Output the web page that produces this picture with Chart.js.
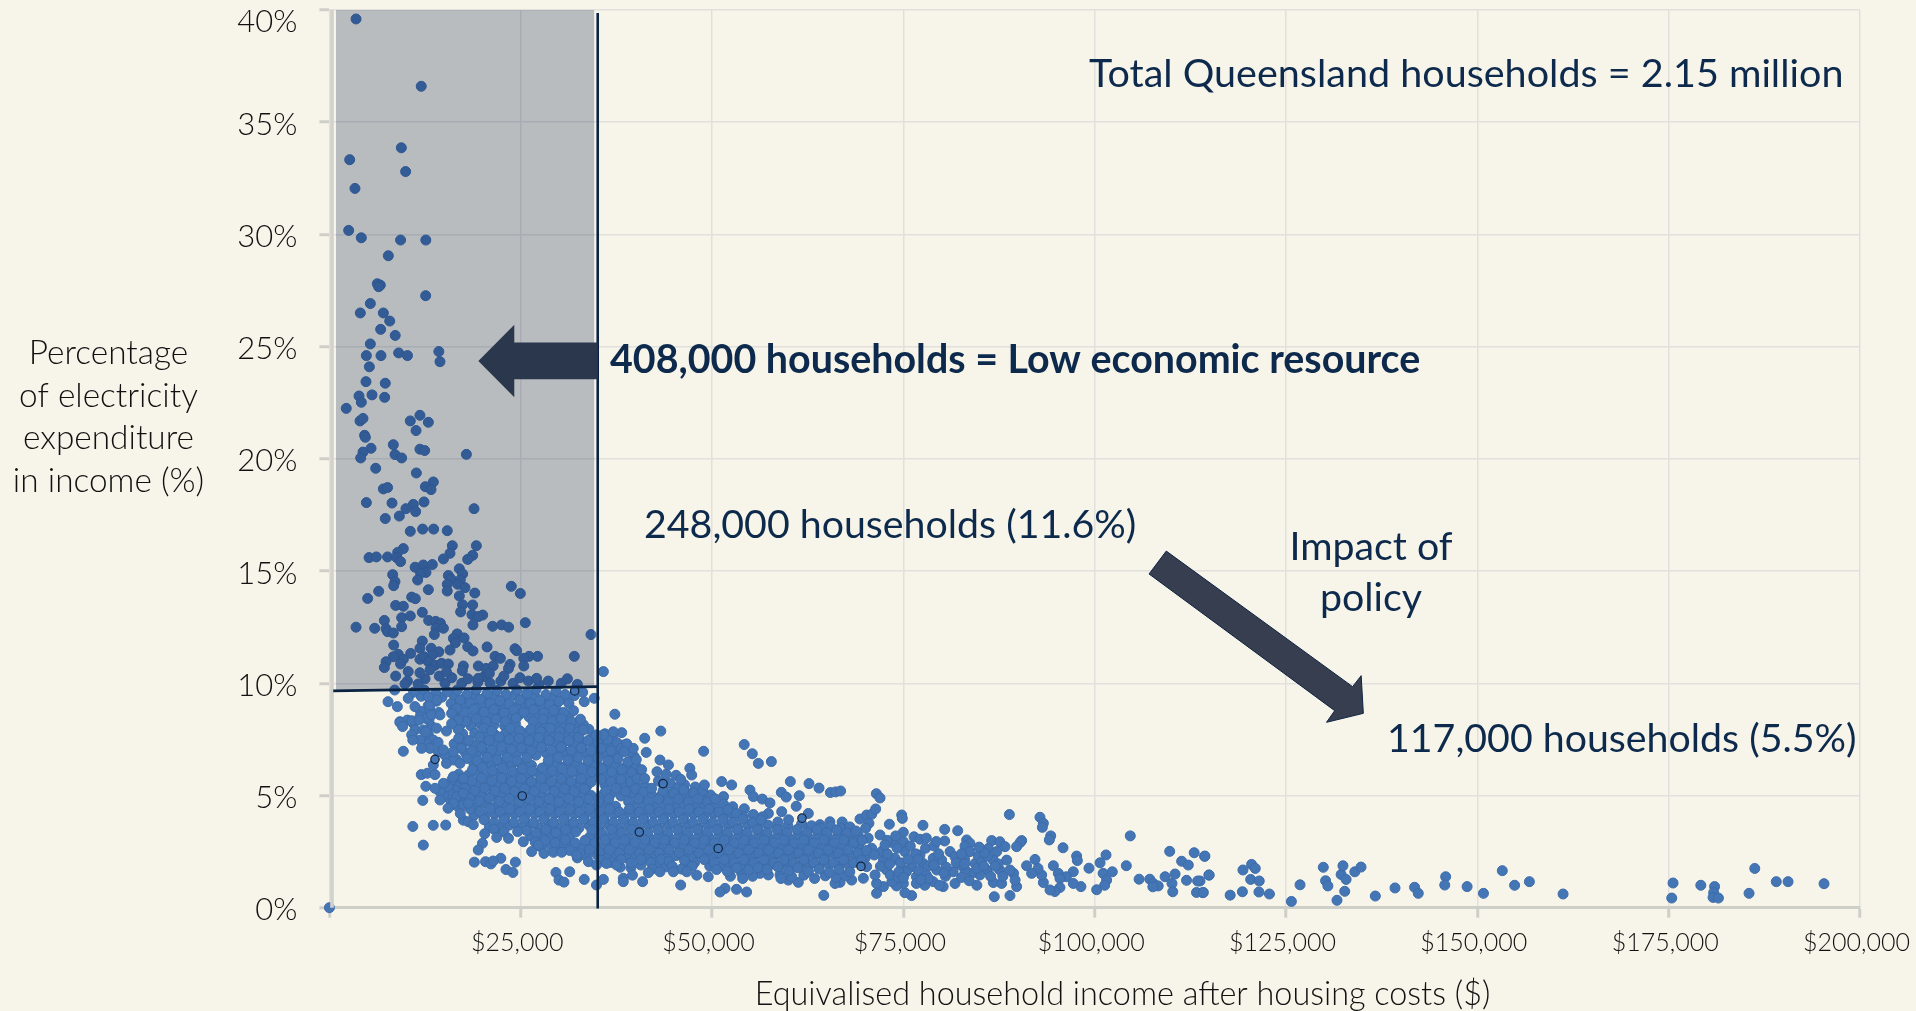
<!DOCTYPE html>
<html><head><meta charset="utf-8">
<style>html,body{margin:0;padding:0;background:#f7f5ea;overflow:hidden}canvas{display:block}</style>
<script src="https://cdn.jsdelivr.net/npm/chart.js@4"></script>
</head><body><div style="width:1916px;height:1011px"><canvas id="c"></canvas></div>
<script>
// Values are [income in $ thousand, share in %], written as flat pairs.
const upperHouseholds=[3.48,39.6,12.0,36.6,9.4,33.86,2.65,33.33,9.96,32.8,3.34,32.05,2.52,30.18,4.17,29.85,9.3,29.75,12.6,29.75,7.7,29.05,6.26,27.8,6.65,27.74,6.44,27.67,12.58,27.27,5.35,26.92,4.04,26.5,7.05,26.5,7.88,26.14,6.7,25.77,8.6,25.5,5.35,25.12,4.83,24.6,6.74,24.6,9.05,24.72,10.2,24.6,14.3,24.78,14.45,24.33,5.22,24.1,4.78,23.44,7.3,23.37,3.87,22.8,5.57,22.85,7.22,22.74,4.17,22.52,2.2,22.25,4.0,21.69,4.39,21.8,10.57,21.69,11.83,21.94,12.93,21.63,11.32,21.26,4.6,21.05,4.7,20.96,8.35,20.63,5.44,20.47,4.39,20.3,4.09,20.04,8.57,20.19,9.44,20.04,11.83,20.43,12.45,20.37,17.9,20.2,6.05,19.58,11.36,19.37,13.58,18.97,12.54,18.76,13.28,18.63,7.05,18.66,7.6,18.72,4.83,18.05,8.18,18.03,10.97,17.97,12.36,18.08,10.0,17.78,11.27,17.65,18.9,17.78,9.14,17.45,7.3,17.34,10.57,16.77,12.18,16.87,13.62,16.87,15.4,16.8,16.06,16.13,19.2,16.13,9.66,16.0,8.92,15.83,15.76,15.79,18.72,15.7,18.07,15.52,14.9,15.54,5.18,15.6,6.13,15.63,7.6,15.63,8.8,15.6,9.3,15.42,11.2,15.17,12.27,15.27,13.45,15.29,12.62,14.94,11.92,14.9,11.53,14.6,16.98,15.1,17.41,14.87,15.54,14.8,8.27,14.84,8.57,14.53,8.4,14.35,15.88,14.65,17.1,14.6,15.4,14.41,16.76,14.41,17.72,14.26,15.4,14.11,12.93,14.17,6.44,14.1,5.0,13.78,19.0,14.02,23.77,14.32,24.95,14.0,10.75,13.84,11.23,13.77,16.98,13.89,8.66,13.47,9.66,13.43,17.4,13.5,18.72,13.49,17.15,13.18,12.14,13.16,18.63,13.06,10.57,13.0,9.44,12.92,20.03,13.04,19.46,12.97,7.18,12.8,12.97,12.8,13.88,12.76,14.5,12.68,18.76,12.6,21.33,12.54,22.5,12.6,23.42,12.5,25.6,12.7,3.48,12.5,5.92,12.45,7.4,12.43,7.6,12.3,8.35,12.24,9.44,12.52,13.93,12.45,14.9,12.45,13.71,12.17,34.18,12.17,16.7,12.2,17.6,12.02,16.2,12.0,16.46,11.8,12.14,11.88,8.4,11.7,18.07,11.63,18.76,11.44,20.6,11.62,11.83,11.56,13.3,11.56,24.25,11.54,24.47,11.45,15.76,11.48,14.3,11.4,10.62,11.33,9.0,11.29,21.64,11.2,22.34,11.11,26.1,11.2,27.2,11.2,32,11.2,25.4,11.11,8.35,11.18,7.4,10.96,7.18,10.7,9.66,11.07,9.3,10.86,11.83,11.07,12.36,11.18,13.45,11.26,12.93,10.96,13.8,10.8,14.67,10.89,15.54,10.86,17.5,10.77,19.46,10.77,20.46,10.66,21.4,10.77,23.6,10.84,23.4,10.66,25.4,10.77,10.3,10.52,8.66,10.32,11.83,10.47,13.15,10.6,14.36,10.32,15.3,10.5,17.37,10.56,20.9,10.44,22.8,10.32,19.46,10.22,27.08,10.22,35.8,10.52];
const edgeHouseholds=[0,0,7.66,9.18,8.88,8.96,8.53,9.7,9.88,9.97,11.6,9.97,11.18,8.96,10.3,9.33,9.22,8.25,9.57,8.07,10.75,8.33,11.75,8.36,12.6,7.84,10.9,7.47,12.05,7.1,9.66,6.97,14.2,7.37,15.3,7.87,16.2,6.95,14.9,7.03,12,5.93,12.8,5.99,13.8,5.93,12.6,5.41,13.8,5.32,14.9,5.54,12.2,4.78,14.45,4.8,15.5,4.43,17.1,4.2,10.9,3.62,13.57,3.67,15.2,3.68,12.27,2.79,18.15,3.83,18.8,3.7,20.3,3.3,20,2.87,19.45,2.57,18.94,2.03,20.4,2.05,21.1,1.95,22.4,2.2,21.4,2.08,24.3,2.03,23.07,1.7,23.98,1.57,21.86,3.13,23.4,3.09,24.6,3.39,25.34,2.94,26.43,2.5,28.04,2.42,29.27,2.47,30.35,2.47,27.3,2.79,29.6,1.57,30,1.23,30.65,1.14,31.4,1.6,33.3,1.26,34.9,1.01,35.8,1.26,38.4,1.31,38.4,1.16,39.6,1.45,40.93,1.16,45.9,1.01,51.04,0.7,32.3,2.35,33.85,2.05,34.9,1.9,36.2,1.97,37.53,1.9,41.67,1.56,43.2,1.6,44.94,1.6,46.7,1.6,48,1.45,49.5,1.38,37.3,8.62,31.9,8.78,33.3,9.18,34.6,9.33,43.3,7.87,41.2,7.55,41.4,6.92,48.9,6.97,43.2,6.58,44.3,6.36,42.8,6.06,47.1,6.21,49,5.47,47.34,5.91,38.2,7.8,37.1,7.84,35.8,7.7,34.9,7.7,33.2,7.92,39.7,7.1,38.85,7.3,38.5,6.95,41.2,5.76,42.1,5.32];
const fringeHouseholds=[9.22,8.29,10.18,8.36,10.97,8.21,11.84,8.51,12.7,8.44,13.36,8.59,14.45,8.59,13.14,9.03,14.0,9.26,12.93,9.4,16.63,8.88,15.97,8.66,16.84,8.36,15.97,8.2,11.18,7.92,12.27,7.92,12.93,7.7,13.58,7.47,12.7,7.32,11.84,7.47,10.75,7.7,13.14,7.1,14.23,6.95,15.1,6.8,16.2,6.58,15.3,6.43,17.06,6.43,13.58,6.36,16.2,5.84,17.5,5.76,15.54,5.39,15.97,5.02,16.63,4.95,17.5,5.1,14.9,5.02,16.2,4.65,14.45,5.17,17.5,4.57,18.15,4.65,17.5,3.9,
72.9,3.0,74.0,3.2,72.6,2.8,74.2,2.65,75.9,2.75,76.6,2.4,77.9,2.65,79.0,2.75,79.3,2.95,78.0,3.1,73.2,1.95,74.4,1.6,75.6,2.15,76.9,2.15,79.0,1.9,80.3,1.55,81.9,2.0,83.0,1.95,84.6,1.75,85.5,1.85,86.4,1.4,87.0,1.85,88.0,1.4,78.3,1.3,77.3,1.25,75.0,1.35,82.6,2.4,85.6,2.45,84.9,2.7];
const coreHouseholds=[10.2,10.1,12.5,10.2,15.1,10.0,16.0,10.25,17.3,10.0,18.1,10.2,19.4,10.05,20.2,10.3,21.0,10.0,22.4,10.1,24.0,10.0,24.9,10.25,26.0,10.1,27.4,9.95,28.6,10.1,30.3,10.0,31.1,10.2,32.4,9.95,
11.0,9.6,12.4,9.7,13.9,9.55,15.4,9.62,16.7,9.7,18.0,9.5,19.2,9.72,20.6,9.55,21.9,9.68,23.1,9.5,24.5,9.7,25.8,9.55,27.0,9.72,28.3,9.5,29.6,9.66,30.8,9.5,33.1,9.6,
14.0,9.2,15.9,9.1,17.1,9.25,18.4,9.12,19.7,9.28,21.0,9.1,22.3,9.22,23.5,9.08,24.9,9.25,26.2,9.1,27.5,9.22,28.8,9.05,30.0,9.2,31.3,9.1,
11.9,8.75,13.1,8.85,14.3,8.7,16.2,8.8,17.6,8.7,18.9,8.85,20.2,8.72,21.5,8.83,22.8,8.68,24.1,8.8,25.4,8.7,26.7,8.82,28.0,8.68,29.3,8.8,30.6,8.7,
13.0,8.35,16.5,8.4,17.8,8.3,19.2,8.42,20.5,8.28,21.8,8.4,23.0,8.3,24.4,8.45,26.6,8.3,27.9,8.4,29.1,8.3,30.3,8.42,31.6,8.28,32.8,8.4,
14.0,8.0,16.8,7.95,20.2,8.0,21.2,7.88,23.6,8.0,24.9,7.88,26.3,7.95,27.6,7.85,28.9,8.0,30.1,7.85,31.4,8.0,32.6,7.85,33.9,7.95,36.0,7.75,
16.9,7.55,18.2,7.45,19.6,7.6,20.9,7.45,22.2,7.6,23.5,7.5,24.8,7.55,26.1,7.45,27.4,7.58,28.7,7.45,30.0,7.6,31.3,7.45,32.6,7.6,33.8,7.45,35.1,7.4,36.4,7.5,37.6,7.35,
17.2,7.1,18.6,7.0,19.9,7.15,21.2,7.02,22.5,7.18,23.8,7.05,25.1,7.12,26.4,7.0,27.7,7.15,29.0,7.02,30.3,7.15,31.6,7.0,32.9,7.12,34.2,7.0,35.5,7.1,36.8,7.0,38.1,7.1,39.3,6.95,
16.6,6.6,18.0,6.65,19.3,6.55,20.6,6.7,21.9,6.58,23.2,6.7,24.5,6.55,25.8,6.68,28.6,6.55,29.9,6.7,31.2,6.58,32.5,6.7,33.8,6.55,35.1,6.68,36.4,6.55,37.7,6.65,39.0,6.5,40.1,6.6,
18.7,6.15,20.0,6.25,21.3,6.1,22.6,6.22,23.9,6.08,25.2,6.2,26.5,6.1,27.8,6.22,29.1,6.08,30.4,6.2,31.7,6.08,33.0,6.2,34.3,6.05,35.6,6.18,36.9,6.05,38.2,6.15,39.5,6.02,40.8,6.15,
16.0,5.7,17.3,5.75,18.6,5.65,19.9,5.78,21.2,5.65,22.5,5.78,23.8,5.62,25.1,5.75,26.4,5.62,27.7,5.76,29.0,5.62,30.3,5.75,31.6,5.62,32.9,5.75,34.2,5.6,35.5,5.72,36.8,5.6,38.1,5.72,39.4,5.6,40.2,5.75,43.0,5.65,44.5,5.55,45.9,5.72,
16.4,5.25,17.7,5.32,19.0,5.2,20.3,5.33,21.6,5.2,22.9,5.32,24.2,5.18,25.5,5.3,26.8,5.18,28.1,5.32,29.4,5.18,30.7,5.3,32.0,5.16,33.3,5.3,36.1,5.2,37.4,5.32,38.7,5.18,40.0,5.3,41.0,5.15,43.6,5.2,45.0,5.1,46.3,5.25,47.6,5.12,48.8,5.2,
15.7,4.85,17.0,4.75,18.3,4.88,19.6,4.75,20.9,4.88,22.2,4.74,23.5,4.86,24.8,4.72,26.1,4.86,27.4,4.72,28.7,4.85,30.0,4.72,31.3,4.85,32.6,4.72,33.9,4.85,35.2,4.72,36.5,4.85,39.1,4.72,40.4,4.85,41.7,4.72,43.0,4.85,44.3,4.72,45.6,4.85,46.9,4.72,48.2,4.85,49.4,4.72,50.4,4.85,
18.4,4.4,19.7,4.28,21.0,4.42,22.3,4.28,23.6,4.4,24.9,4.26,26.2,4.4,27.5,4.26,28.8,4.4,30.1,4.26,31.4,4.4,32.7,4.26,34.0,4.4,35.3,4.26,36.6,4.4,37.9,4.26,39.2,4.4,40.5,4.26,41.8,4.4,43.1,4.26,44.4,4.4,45.7,4.26,47.0,4.4,48.3,4.26,49.6,4.4,50.9,4.26,52.1,4.38,53.2,4.2,
20.2,3.92,21.5,3.8,22.8,3.94,24.1,3.8,25.4,3.94,26.7,3.8,28.0,3.94,29.3,3.8,30.6,3.94,31.9,3.8,33.2,3.94,34.5,3.8,35.8,3.94,37.1,3.8,38.4,3.94,39.7,3.8,41.0,3.94,42.3,3.8,43.6,3.94,44.9,3.8,46.2,3.94,47.5,3.8,48.8,3.94,50.1,3.8,51.4,3.94,52.7,3.8,54.0,3.94,55.3,3.8,56.4,3.92,58.6,3.82,60.0,3.92,63.0,3.65,
21.5,3.5,22.8,3.38,25.7,3.45,27.0,3.32,28.3,3.48,29.6,3.34,30.9,3.48,32.2,3.38,34.3,3.46,35.6,3.32,36.9,3.48,38.2,3.34,39.5,3.48,41.6,3.34,42.9,3.48,44.2,3.34,45.5,3.48,46.8,3.34,48.1,3.48,49.4,3.34,50.7,3.48,52.0,3.34,53.3,3.48,54.6,3.34,55.9,3.48,57.2,3.34,58.5,3.48,59.8,3.34,61.1,3.48,62.4,3.34,63.7,3.48,65.0,3.34,66.3,3.45,67.6,3.32,68.8,3.42,
26.9,2.92,28.2,3.0,29.5,2.88,30.8,3.02,32.1,2.88,33.4,3.0,34.7,2.88,36.0,3.02,37.3,2.88,38.6,3.02,39.9,2.88,41.2,3.02,42.5,2.88,43.8,3.02,45.1,2.88,46.4,3.02,47.7,2.88,49.0,3.02,50.3,2.88,51.6,3.02,52.9,2.88,54.2,3.02,55.5,2.88,56.8,3.02,58.1,2.88,59.4,3.02,60.7,2.88,62.0,3.02,63.3,2.88,64.6,3.02,65.9,2.88,67.2,3.02,68.5,2.88,69.6,3.0,
31.4,2.55,32.7,2.44,34.0,2.58,35.3,2.44,36.6,2.58,37.9,2.44,39.2,2.58,40.5,2.44,41.8,2.58,43.1,2.44,44.4,2.58,45.7,2.44,47.0,2.58,48.3,2.44,49.6,2.58,50.9,2.44,52.2,2.58,53.5,2.44,54.8,2.58,56.1,2.44,57.4,2.58,58.7,2.44,60.0,2.58,61.3,2.44,62.6,2.58,63.9,2.44,65.2,2.58,66.5,2.44,67.8,2.58,69.1,2.44,70.2,2.55,71.2,2.35,
35.5,2.12,36.8,2.02,38.1,2.15,39.4,2.0,40.7,2.15,42.0,2.02,43.3,2.15,44.4,2.05,46.4,2.1,47.7,2.0,49.0,2.14,50.3,2.0,51.6,2.14,52.9,2.0,54.2,2.14,55.5,2.0,56.8,2.14,58.1,2.0,59.4,2.14,60.7,2.0,62.0,2.14,63.3,2.0,64.6,2.14,65.9,2.0,67.2,2.14,68.5,2.0,69.5,2.12,
42.2,1.72,44.8,1.85,46.0,1.72,47.4,1.85,50.6,1.7,52.0,1.62,53.2,1.78,54.8,1.68,56.0,1.78,57.2,1.7,58.6,1.82,60.0,1.65,61.2,1.78,62.6,1.62,64.0,1.72,65.3,1.58,66.6,1.7,68.0,1.6];
const denseHouseholds=[12.0,9.42,14.7,9.38,16.3,9.45,17.7,9.35,19.0,9.48,20.3,9.36,21.6,9.44,22.9,9.33,24.2,9.46,25.5,9.35,26.8,9.44,28.1,9.32,29.4,9.42,30.7,9.3,32.0,9.45,
12.9,9.0,16.6,8.95,17.9,9.02,19.2,8.92,20.5,9.0,21.8,8.93,23.1,9.03,24.4,8.95,25.7,9.0,27.0,8.92,28.3,9.02,29.6,8.9,
12.2,8.55,16.9,8.58,18.2,8.5,19.6,8.62,20.9,8.5,22.2,8.6,23.5,8.52,24.8,8.6,26.1,8.5,27.4,8.6,28.7,8.5,30.0,8.58,31.3,8.48,
13.3,8.1,17.1,8.15,18.5,8.1,19.7,8.2,21.5,8.15,22.9,8.1,24.3,8.2,26.9,8.12,28.2,8.18,29.5,8.12,30.8,8.2,32.0,8.08,33.2,8.15,
17.4,7.75,19.0,7.78,20.3,7.7,21.6,7.72,23.0,7.75,24.2,7.72,25.5,7.75,26.8,7.7,28.1,7.78,29.4,7.68,30.7,7.75,32.0,7.7,34.5,7.62,35.7,7.55,37.0,7.62,
16.3,7.3,17.5,7.32,18.9,7.25,20.2,7.35,21.5,7.25,22.8,7.38,24.1,7.28,25.4,7.33,26.7,7.25,28.0,7.35,29.3,7.25,30.6,7.35,31.9,7.25,33.2,7.33,34.6,7.22,35.9,7.3,37.2,7.22,38.5,7.25,
15.8,6.75,17.8,6.88,19.2,6.8,20.5,6.92,21.8,6.8,23.1,6.92,24.4,6.82,25.7,6.9,27.0,6.8,28.3,6.9,29.6,6.82,30.9,6.92,32.2,6.8,33.5,6.9,34.8,6.8,36.1,6.88,37.4,6.78,39.8,6.75,
18.9,6.38,20.0,6.45,21.2,6.35,22.5,6.45,23.8,6.35,25.1,6.42,26.4,6.35,28.4,6.32,29.7,6.45,31.0,6.35,32.3,6.45,33.6,6.32,34.9,6.42,36.2,6.32,37.5,6.4,38.8,6.28,40.0,6.35,
16.9,5.95,18.2,5.92,19.5,6.0,20.8,5.88,22.1,6.0,23.4,5.85,24.7,5.98,26.0,5.85,27.3,6.0,28.6,5.85,29.9,5.98,31.2,5.85,32.5,5.98,33.8,5.85,35.1,5.95,36.4,5.85,37.7,5.95,39.0,5.82,40.3,5.95,44.0,5.95,45.3,5.9,
16.9,5.5,18.0,5.45,19.3,5.55,20.6,5.42,21.9,5.55,23.2,5.42,24.5,5.52,25.8,5.4,27.1,5.55,28.4,5.42,29.7,5.52,31.0,5.4,32.3,5.52,33.6,5.4,36.0,5.48,37.3,5.55,38.6,5.42,39.9,5.52,41.2,5.42,43.7,5.42,45.2,5.35,46.4,5.48,47.8,5.38,
16.0,5.0,17.3,5.08,18.6,4.98,19.9,5.1,21.2,4.98,22.5,5.08,23.8,4.96,25.1,5.08,26.4,4.96,27.7,5.08,29.0,4.96,30.3,5.08,31.6,4.96,32.9,5.08,34.2,5.0,35.5,4.98,36.8,5.08,38.1,4.98,39.4,5.08,40.7,4.98,42.0,5.08,43.3,4.98,44.6,5.08,45.9,4.98,47.2,5.08,48.5,4.98,49.8,5.02,
16.6,4.55,17.9,4.62,19.2,4.52,20.5,4.65,21.8,4.52,23.1,4.62,24.4,4.5,25.7,4.62,27.0,4.5,28.3,4.62,29.6,4.5,30.9,4.62,32.2,4.5,33.5,4.62,34.8,4.5,36.1,4.62,37.4,4.52,39.8,4.52,41.1,4.62,42.4,4.5,43.7,4.62,45.0,4.5,46.3,4.62,47.6,4.5,48.9,4.62,50.2,4.5,51.5,4.62,52.7,4.5,
18.9,4.12,20.3,4.05,21.6,4.18,22.9,4.05,24.2,4.18,25.5,4.05,26.8,4.18,28.1,4.05,29.4,4.18,30.7,4.05,32.0,4.18,33.3,4.05,34.6,4.18,35.9,4.05,37.2,4.18,38.5,4.05,39.8,4.18,41.1,4.05,42.4,4.18,43.7,4.05,45.0,4.18,46.3,4.05,47.6,4.18,48.9,4.05,50.2,4.18,51.5,4.05,52.8,4.15,54.1,4.05,55.4,4.15,56.6,4.05,
20.9,3.62,22.2,3.58,23.5,3.68,24.8,3.55,26.1,3.68,27.4,3.55,28.7,3.68,30.0,3.55,31.3,3.68,32.6,3.55,33.9,3.68,35.2,3.55,36.5,3.68,37.8,3.55,39.1,3.68,40.4,3.55,41.7,3.68,43.0,3.55,44.3,3.68,45.6,3.55,46.9,3.68,48.2,3.55,49.5,3.68,50.8,3.55,52.1,3.68,53.4,3.55,54.7,3.68,56.0,3.55,57.3,3.68,58.6,3.55,59.9,3.65,62.9,3.55,64.2,3.55,65.5,3.62,66.8,3.55,68.0,3.6,
26.3,3.2,27.6,3.12,28.9,3.25,30.2,3.12,31.5,3.25,34.0,3.15,35.3,3.25,36.6,3.12,37.9,3.25,39.2,3.12,40.5,3.25,41.8,3.12,43.1,3.25,44.4,3.12,45.7,3.25,47.0,3.12,48.3,3.25,49.6,3.12,50.9,3.25,52.2,3.12,53.5,3.25,54.8,3.12,56.1,3.25,57.4,3.12,58.7,3.25,60.0,3.12,61.3,3.25,62.6,3.12,63.9,3.25,65.2,3.12,66.5,3.25,67.8,3.12,69.1,3.22,70.4,3.1,
27.6,2.72,28.9,2.78,30.2,2.65,31.5,2.78,32.8,2.65,34.1,2.78,35.4,2.65,36.7,2.78,38.0,2.65,39.3,2.78,40.6,2.65,41.9,2.78,43.2,2.65,44.5,2.78,45.8,2.65,47.1,2.78,48.4,2.65,49.7,2.78,51.0,2.65,52.3,2.78,53.6,2.65,54.9,2.78,56.2,2.65,57.5,2.78,58.8,2.65,60.1,2.78,61.4,2.65,62.7,2.78,64.0,2.65,65.3,2.78,66.6,2.65,67.9,2.78,69.2,2.68,
32.4,2.22,33.6,2.28,35.0,2.35,36.2,2.25,37.5,2.35,38.8,2.25,40.1,2.35,41.4,2.25,42.7,2.35,44.0,2.25,45.3,2.32,46.6,2.25,47.9,2.35,49.2,2.25,50.5,2.35,51.8,2.25,53.1,2.35,54.4,2.25,55.7,2.35,57.0,2.25,58.3,2.35,59.6,2.25,60.9,2.35,62.2,2.25,63.5,2.35,64.8,2.25,66.1,2.35,67.4,2.25,68.7,2.32,70.0,2.22,
38.0,1.8,39.4,1.78,40.7,1.9,42.9,1.9,44.0,1.82,47.0,1.9,49.7,1.85,51.0,1.85,52.3,1.92,53.6,1.85,54.9,1.92,56.2,1.85,57.5,1.92,58.8,1.85,60.1,1.92,61.4,1.85,62.7,1.9,64.0,1.85,65.3,1.92,66.6,1.85,67.9,1.9,
52.4,1.4,54.0,1.3,55.3,1.4,59.0,1.3,60.4,1.38,62.0,1.45,63.4,1.3,64.8,1.42,66.2,1.35,67.5,1.42,
72.9,2.4,74.6,2.0,75.4,1.6,77.0,1.65,78.2,1.85,79.6,2.4,80.6,1.8,82.5,1.9,83.0,2.15,85.2,2.05,86.0,2.3,87.4,1.95,72.0,1.85,73.3,1.45,74.3,1.35,78.0,1.45,80.5,1.4,82.6,1.35,83.6,1.2,79.7,1.0];
const middleHouseholds=[54.2,7.27,55.26,6.86,56.05,6.43,57.75,6.51,60.23,5.62,62.67,5.53,63.98,5.33,65.46,5.13,66.15,5.16,66.8,5.2,71.47,5.08,71.95,4.89,59.05,5.14,59.7,4.93,61.4,4.99,61.0,4.52,54.96,5.24,55.4,4.95,56.57,4.84,57.57,4.67,54.22,4.41,52.56,5.47,51.26,5.62,51.5,4.95,57.36,4.2,59.1,4.28,62.58,4.2,61.7,3.73,64.1,3.7,65.4,3.83,67.0,3.82,69.33,3.95,70.2,4.13,70.86,4.16,71.38,4.4,70.5,3.76,70.07,3.54,73.17,3.72,74.78,4.13,74.86,3.98,77.56,3.67,74.99,3.36,80.4,3.49,82.1,3.43,80.4,2.97,71.95,3.24,76.39,3.16,77.17,3.05,83.27,3.02,83.7,2.87,83.05,2.75,83.7,2.5,86.54,2.99,87.6,2.94,88.28,2.72,86.1,2.64,87.2,2.5,88.85,4.15,92.85,4.03,93.29,3.76,93.16,3.58,94.25,3.2,94.07,3.02,90.46,2.99,90.24,2.9,89.8,2.72,95.86,2.67,97.64,2.3,97.73,2.1,101.48,2.35,100.7,2.0,99.25,1.76,104.65,3.2,104.13,1.87,109.8,2.51,111.36,2.07,112.23,1.9,113,2.45,114.4,2.3,114.93,1.46,110.5,1.5,109.2,1.38,110.1,1.08,110.2,0.71,112,1.22,113.45,1.19,113.3,0.68,114.2,0.68,105.8,1.27,107.2,1.27,107.66,1.08,108.3,0.97,107.6,0.93,102.3,1.6,101.1,1.53,101.56,1.23,101.3,1.0,100.26,0.8,98.2,0.94,97.2,1.08,97.2,1.6,96.3,1.38,95.25,1.53,94.6,1.87,95.46,1.3,95.46,0.9,94.8,0.72,94.16,0.79,93.29,1.12,93.07,1.46,92.6,1.75,92.2,2.15,91.1,1.87,91.76,1.53,89.8,0.94,89.4,1.53,89.6,1.23,88.93,0.54,86.88,0.49,86.75,1.12,87.84,1.08,88.5,2.12,86.75,2.12,88.93,1.68,87.6,1.68,85.88,1.68,84.6,1.0,85,1.46,83.9,1.53,84.36,1.97,84.8,2.3,83.05,1.68,81.5,1.6,81.75,1.08,81.1,2.5,81.75,2.27,80.2,0.94,80,2.12,78.9,2.2,79.35,1.68,78.9,1.16,77.8,1.0,77.17,2.35,77.6,1.97,76.7,1.38,76.7,1.08,76.08,0.54,75.2,0.67,75,1.08,74.1,0.97,74.8,1.76,76.08,1.83,75.2,2.5,73.7,2.87,75,2.94,73.9,2.2,72.4,2.12,72.8,1.68,73.5,1.16,72.4,0.94,71.5,0.64,71.5,1.08,71.3,1.46,70.86,2.65,72.16,2.5,70.2,1.83,69.77,1.31,68.24,1.23,66.72,1.13,66.07,1.08,64.6,0.55,61.27,1.13,59.97,1.23,58.88,1.46,57.35,1.46,56.27,1.53,54.52,0.7,53.2,0.82,51.7,0.86,53.87,1.53];
const tailHouseholds=[114.36,2.29,114.95,1.45,113.76,1.19,114.1,0.67,117.7,0.56,119.37,1.68,120.5,1.93,120.98,1.75,120.38,1.26,121.5,1.19,119.3,0.71,121.46,0.7,122.83,0.61,125.7,0.28,126.83,1.02,129.87,1.8,130.17,1.2,130.47,0.97,132.2,1.48,132.44,1.87,132.85,1.26,132.67,0.73,131.66,0.33,133.99,1.6,134.8,1.81,136.67,0.52,139.24,0.88,141.8,0.91,142.28,0.64,145.86,1.38,145.74,1.01,148.66,0.94,150.8,0.64,153.26,1.65,154.87,1.0,156.8,1.16,161.2,0.61,175.57,1.1,175.4,0.43,179.2,1.0,181,0.94,180.88,0.67,180.8,0.46,181.5,0.43,185.5,0.64,186.25,1.75,189.06,1.16,190.6,1.16,195.3,1.07];
const ringedHouseholds=[13.8,6.61,25.2,4.98,32.05,9.66,43.6,5.53,40.5,3.37,50.8,2.64,61.75,3.99,69.46,1.84];
const xTicks=[0,25000,50000,75000,100000,125000,150000,175000,200000];
const yTicks=[0,5,10,15,20,25,30,35,40];
const yTitleLines=['Percentage','of electricity','expenditure','in income (%)'];
const lowResourceBand=[[0.86,40],[34.6,40],[34.6,9.84],[0.86,9.66]];
const incomeCutLine=[[35.06,39.87],[35.06,-0.04]];
const shareCutLine=[[0.5,9.66],[35.06,9.85]];
const leftArrow=[[19.46,24.36],[24.16,25.97],[24.16,25.18],[35.06,25.18],[35.06,23.55],[24.16,23.55],[24.16,22.75]];
const policyArrow=[[109.35,15.89],[133.7,9.85],[134.82,10.34],[135.1,8.66],[130.29,8.26],[131.36,8.78],[107.1,14.87]];

const pairs=a=>{const r=[];for(let i=0;i+1<a.length;i+=2)r.push({x:a[i]*1000,y:a[i+1]});return r;};
const FONT='Lato';
const NAVY='#0d2a4d';
function drawText(ctx,t,x,y,font,color,align){ctx.font=font;ctx.fillStyle=color;ctx.textAlign=align||'left';ctx.textBaseline='middle';ctx.fillText(t,x,y);}
const overlay={id:'overlay',
 afterDatasetsDraw(ch){
  const c=ch.ctx,X=ch.scales.x,Y=ch.scales.y;
  const P=p=>[X.getPixelForValue(p[0]*1000),Y.getPixelForValue(p[1])];
  const poly=a=>{c.beginPath();a.forEach((p,i)=>{const q=P(p);i?c.lineTo(q[0],q[1]):c.moveTo(q[0],q[1]);});c.closePath();};
  c.save();
  poly(lowResourceBand);c.fillStyle='rgba(0,21,62,0.25)';c.fill();
  const q0=[X.getPixelForValue(340),Y.getPixelForValue(40)],q1=[q0[0],Y.getPixelForValue(0)];
  c.strokeStyle='#d2d2cd';c.lineWidth=3.6;c.beginPath();c.moveTo(q0[0],q0[1]);c.lineTo(q1[0],q1[1]);c.stroke();
  c.strokeStyle='#0a2342';c.lineWidth=2.6;
  [incomeCutLine,shareCutLine].forEach(l=>{const a=P(l[0]),b=P(l[1]);c.beginPath();c.moveTo(a[0],a[1]);c.lineTo(b[0],b[1]);c.stroke();});
  poly(leftArrow);c.fillStyle='#2b374c';c.fill();
  poly(policyArrow);c.fillStyle='#363e50';c.fill();c.strokeStyle='#0d2342';c.lineWidth=1;c.stroke();
  const big='400 39.3px '+FONT,wide='400 39.5px '+FONT,bold='700 39.4px '+FONT,axis='300 33.4px '+FONT,xt='300 32.4px '+FONT;
  drawText(c,'Total Queensland households = 2.15 million',1089,74,wide,NAVY);
  drawText(c,'408,000 households = Low economic resource',610,360.2,bold,NAVY);
  drawText(c,'248,000 households (11.6%)',644,525.2,big,NAVY);
  drawText(c,'Impact of',1371,547.2,big,NAVY,'center');
  drawText(c,'policy',1371,598.8,big,NAVY,'center');
  drawText(c,'117,000 households (5.5%)',1387,739.2,big,NAVY);
  const ys=[353.2,396.2,438.7,481.2];
  yTitleLines.forEach((t,i)=>drawText(c,t,108.5,ys[i],axis,'#111','center'));
  drawText(c,'Equivalised household income after housing costs ($)',1122.5,994.7,xt,'#111','center');
  c.restore();
 }};
// nudge native tick labels by the offsets seen in the reference
function shiftLabels(s,dx,dyFn){
 if(s._shiftWrapped)return;s._shiftWrapped=true;
 const orig=s.getLabelItems.bind(s);
 s.getLabelItems=a=>{const it=orig(a);if(!it._done){it._done=true;it.forEach(i=>{const t=i.options.translation;i.options.translation=[t[0]+dx,t[1]+dyFn(i.label)];});}return it;};
}
const blue='#4475b5',edge='#3d6ca9';
const ds=(data,extra)=>Object.assign({data,backgroundColor:blue,borderColor:edge,borderWidth:1,pointRadius:5,clip:false},extra||{});
new Chart(document.getElementById('c'),{type:'scatter',
 data:{datasets:[ds(pairs(upperHouseholds)),ds(pairs(edgeHouseholds)),ds(pairs(fringeHouseholds)),ds(pairs(coreHouseholds)),ds(pairs(denseHouseholds)),ds(pairs(middleHouseholds)),ds(pairs(tailHouseholds)),
  ds(pairs(ringedHouseholds),{borderColor:'#10233f',borderWidth:1.2,pointRadius:4.2,order:-1})]},
 options:{responsive:true,maintainAspectRatio:false,animation:false,
  layout:{padding:{left:0,right:56,top:10,bottom:0}},
  plugins:{legend:{display:false},tooltip:{enabled:false}},
  scales:{
   x:{type:'linear',min:0,max:200000,afterBuildTicks(s){s.ticks=xTicks.map(v=>({value:v}));},
    afterFit(s){s.height=103.3;s.paddingLeft=0;s.paddingRight=0;shiftLabels(s,-3.5,()=>2.4);},
    grid:{color:'#e1e0dc',lineWidth:1.5,tickLength:10,tickColor:'#cfcfca',tickWidth:3},
    border:{color:'#cfcfca',width:3},
    ticks:{autoSkip:false,maxRotation:0,padding:8,color:'#111',font:{family:FONT,size:25,weight:'300'},callback:v=>v?'$'+v.toLocaleString('en-US'):''}},
   y:{type:'linear',min:0,max:40,afterBuildTicks(s){s.ticks=yTicks.map(v=>({value:v}));},
    afterFit(s){s.width=329.4;s.paddingTop=0;s.paddingBottom=0;shiftLabels(s,0,l=>l==='40%'?11.6:2.6);},
    grid:{color:'#e1e0dc',lineWidth:1.5,tickLength:10,tickColor:'#cfcfca',tickWidth:3},
    border:{display:false},
    ticks:{padding:22,color:'#111',font:{family:FONT,size:31,weight:'300'},callback:v=>v+'%'}}
  }},
 plugins:[overlay]});
</script></body></html>
